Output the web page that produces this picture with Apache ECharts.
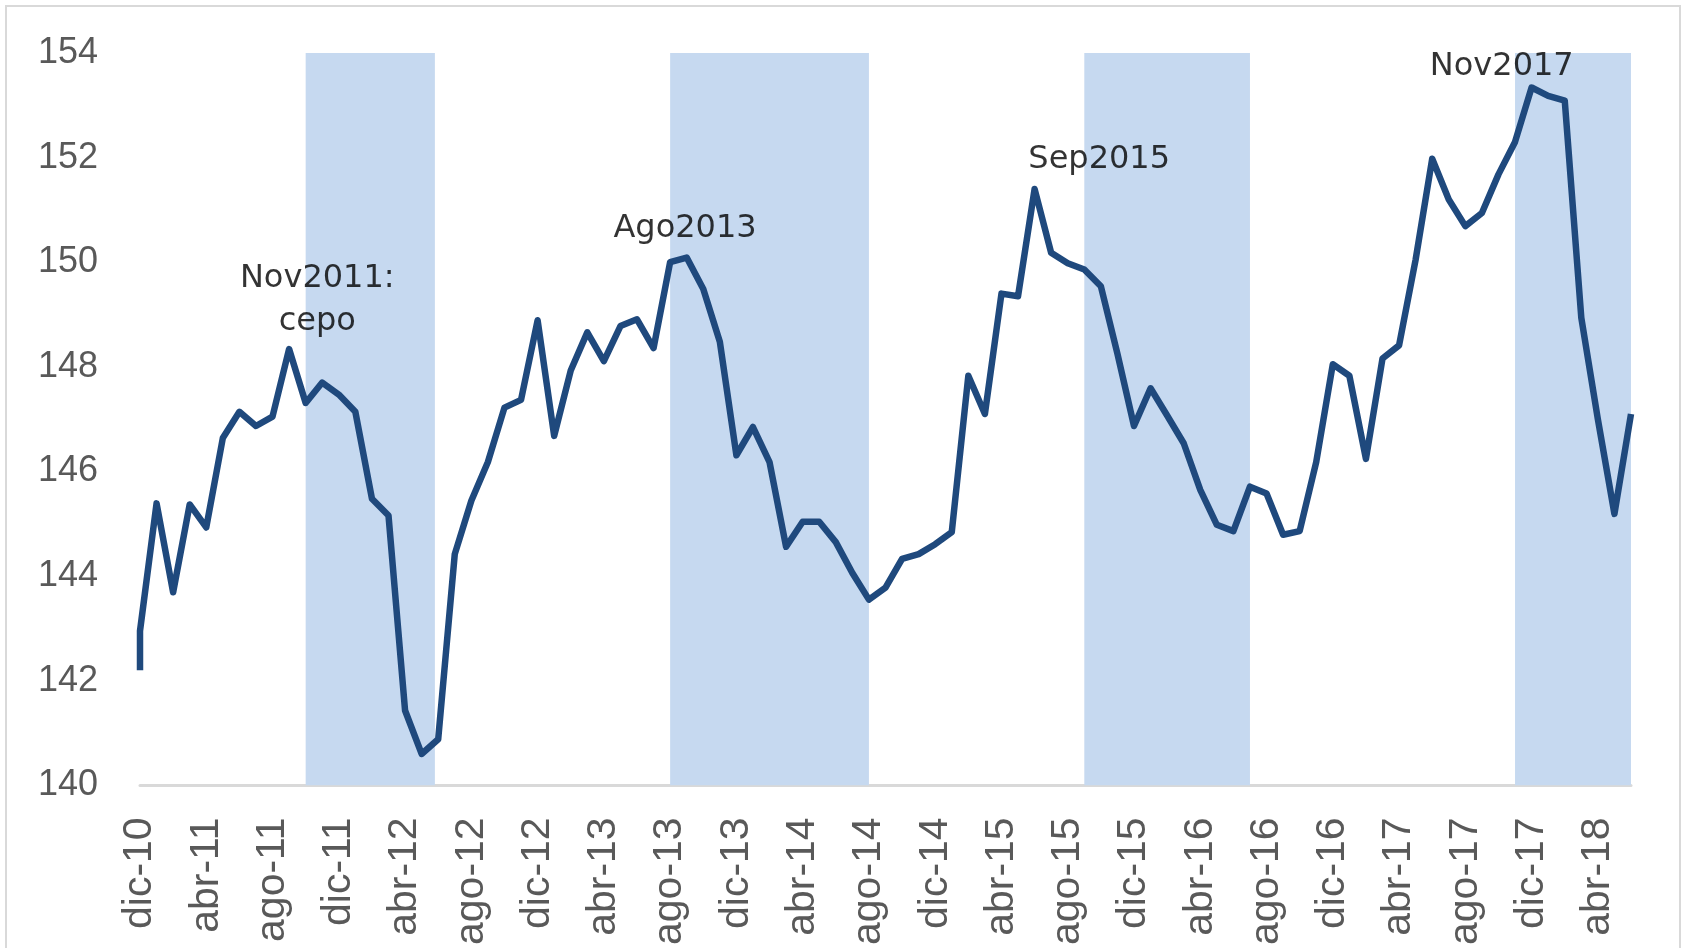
<!DOCTYPE html>
<html>
<head>
<meta charset="utf-8">
<script src="https://cdn.jsdelivr.net/npm/echarts@6/dist/echarts.min.js"></script>
<style>
  html, body { margin: 0; padding: 0; background: #fff; }
  #chart { width: 1688px; height: 948px; }
</style>
</head>
<body>
<div id="chart"></div>
<script>
// etiquetas del eje x (una cada 4 meses, desde dic-10)
var etiquetas = ['dic-10', 'abr-11', 'ago-11', 'dic-11', 'abr-12', 'ago-12', 'dic-12', 'abr-13',
    'ago-13', 'dic-13', 'abr-14', 'ago-14', 'dic-14', 'abr-15', 'ago-15', 'dic-15', 'abr-16',
    'ago-16', 'dic-16', 'abr-17', 'ago-17', 'dic-17', 'abr-18'];

// primer dato (dentro de dic-10) y serie mensual dic-10 .. jun-18
var valorInicial = 142.2;
var valores = [
    142.95, 145.39, 143.69, 145.37, 144.93, 146.64, 147.14, 146.87, 147.05, 148.34,
    147.31, 147.70, 147.47, 147.14, 145.48, 145.16, 141.43, 140.60, 140.88, 144.42,
    145.44, 146.18, 147.22, 147.37, 148.89, 146.68, 147.93, 148.66, 148.11, 148.78,
    148.91, 148.36, 150.00, 150.09, 149.49, 148.48, 146.31, 146.85, 146.18, 144.56,
    145.04, 145.04, 144.65, 144.06, 143.55, 143.78, 144.33, 144.42, 144.61, 144.84,
    147.83, 147.10, 149.40, 149.35, 151.40, 150.18, 149.98, 149.86, 149.54, 148.25,
    146.87, 147.59, 147.07, 146.54, 145.65, 144.98, 144.86, 145.71, 145.58, 144.79,
    144.86, 146.18, 148.05, 147.83, 146.24, 148.16, 148.41, 150.05, 151.98, 151.20,
    150.69, 150.94, 151.68, 152.30, 153.34, 153.18, 153.09, 148.94, 147.00, 145.19,
    147.10
];

// periodos sombreados (índice de mes inicio, fin)
var bandaInicio = [10, 32, 57, 83];
var bandaFin = [17.8, 44, 67, 90];

// anotaciones
var notas = ['Nov2011:\ncepo', 'Ago2013', 'Sep2015', 'Nov2017'];
var notaMes = [10.7, 32.9, 57.9, 82.2];
var notaValor = [149.28, 150.65, 151.96, 153.73];

var serie = [[0, valorInicial]].concat(valores.map(function (v, i) { return [i, v]; }));
var bandas = bandaInicio.map(function (b, i) { return [{ xAxis: b }, { xAxis: bandaFin[i] }]; });
var puntosNotas = notas.map(function (t, i) { return [notaMes[i], notaValor[i], t]; });

var chart = echarts.init(document.getElementById('chart'));

var option = {
    backgroundColor: '#fff',
    animation: false,
    graphic: [{
        type: 'rect',
        shape: { x: 6, y: 6, width: 1674, height: 960 },
        style: { fill: 'none', stroke: '#d9d9d9', lineWidth: 2 },
        silent: true
    }],
    grid: { left: 140, right: 57, top: 53, bottom: 159 },
    xAxis: {
        type: 'value',
        min: 0,
        max: 90,
        interval: 4,
        axisLine: { show: true, onZero: false, lineStyle: { color: '#d9d9d9', width: 3 } },
        axisTick: { show: false },
        splitLine: { show: false },
        axisLabel: {
            rotate: 90,
            margin: 32,
            color: '#595959',
            fontFamily: 'Liberation Sans Narrow, Arial Narrow, sans-serif',
            fontSize: 41,
            showMaxLabel: false,
            formatter: function (v) { return etiquetas[v / 4] || ''; }
        }
    },
    yAxis: {
        type: 'value',
        min: 140,
        max: 154,
        interval: 2,
        axisLine: { show: false },
        axisTick: { show: false },
        splitLine: { show: false },
        axisLabel: {
            margin: 42,
            color: '#595959',
            fontFamily: 'Liberation Sans, Arial, sans-serif',
            fontSize: 36
        }
    },
    series: [
        {
            type: 'line',
            data: [],
            z: 1,
            silent: true,
            markArea: {
                silent: true,
                itemStyle: { color: '#c6d9f0' },
                data: bandas
            }
        },
        {
            type: 'line',
            data: serie,
            z: 3,
            symbol: 'none',
            lineStyle: { color: '#1f497d', width: 6.5, join: 'round', cap: 'butt' }
        },
        {
            type: 'scatter',
            data: puntosNotas,
            z: 4,
            symbolSize: 0,
            label: {
                show: true,
                position: 'inside',
                color: '#000',
                fontFamily: 'DejaVu Sans, sans-serif',
                fontSize: 32,
                lineHeight: 43,
                align: 'center',
                verticalAlign: 'middle',
                formatter: function (p) { return p.value[2]; }
            }
        }
    ]
};

chart.setOption(option);
</script>
</body>
</html>
